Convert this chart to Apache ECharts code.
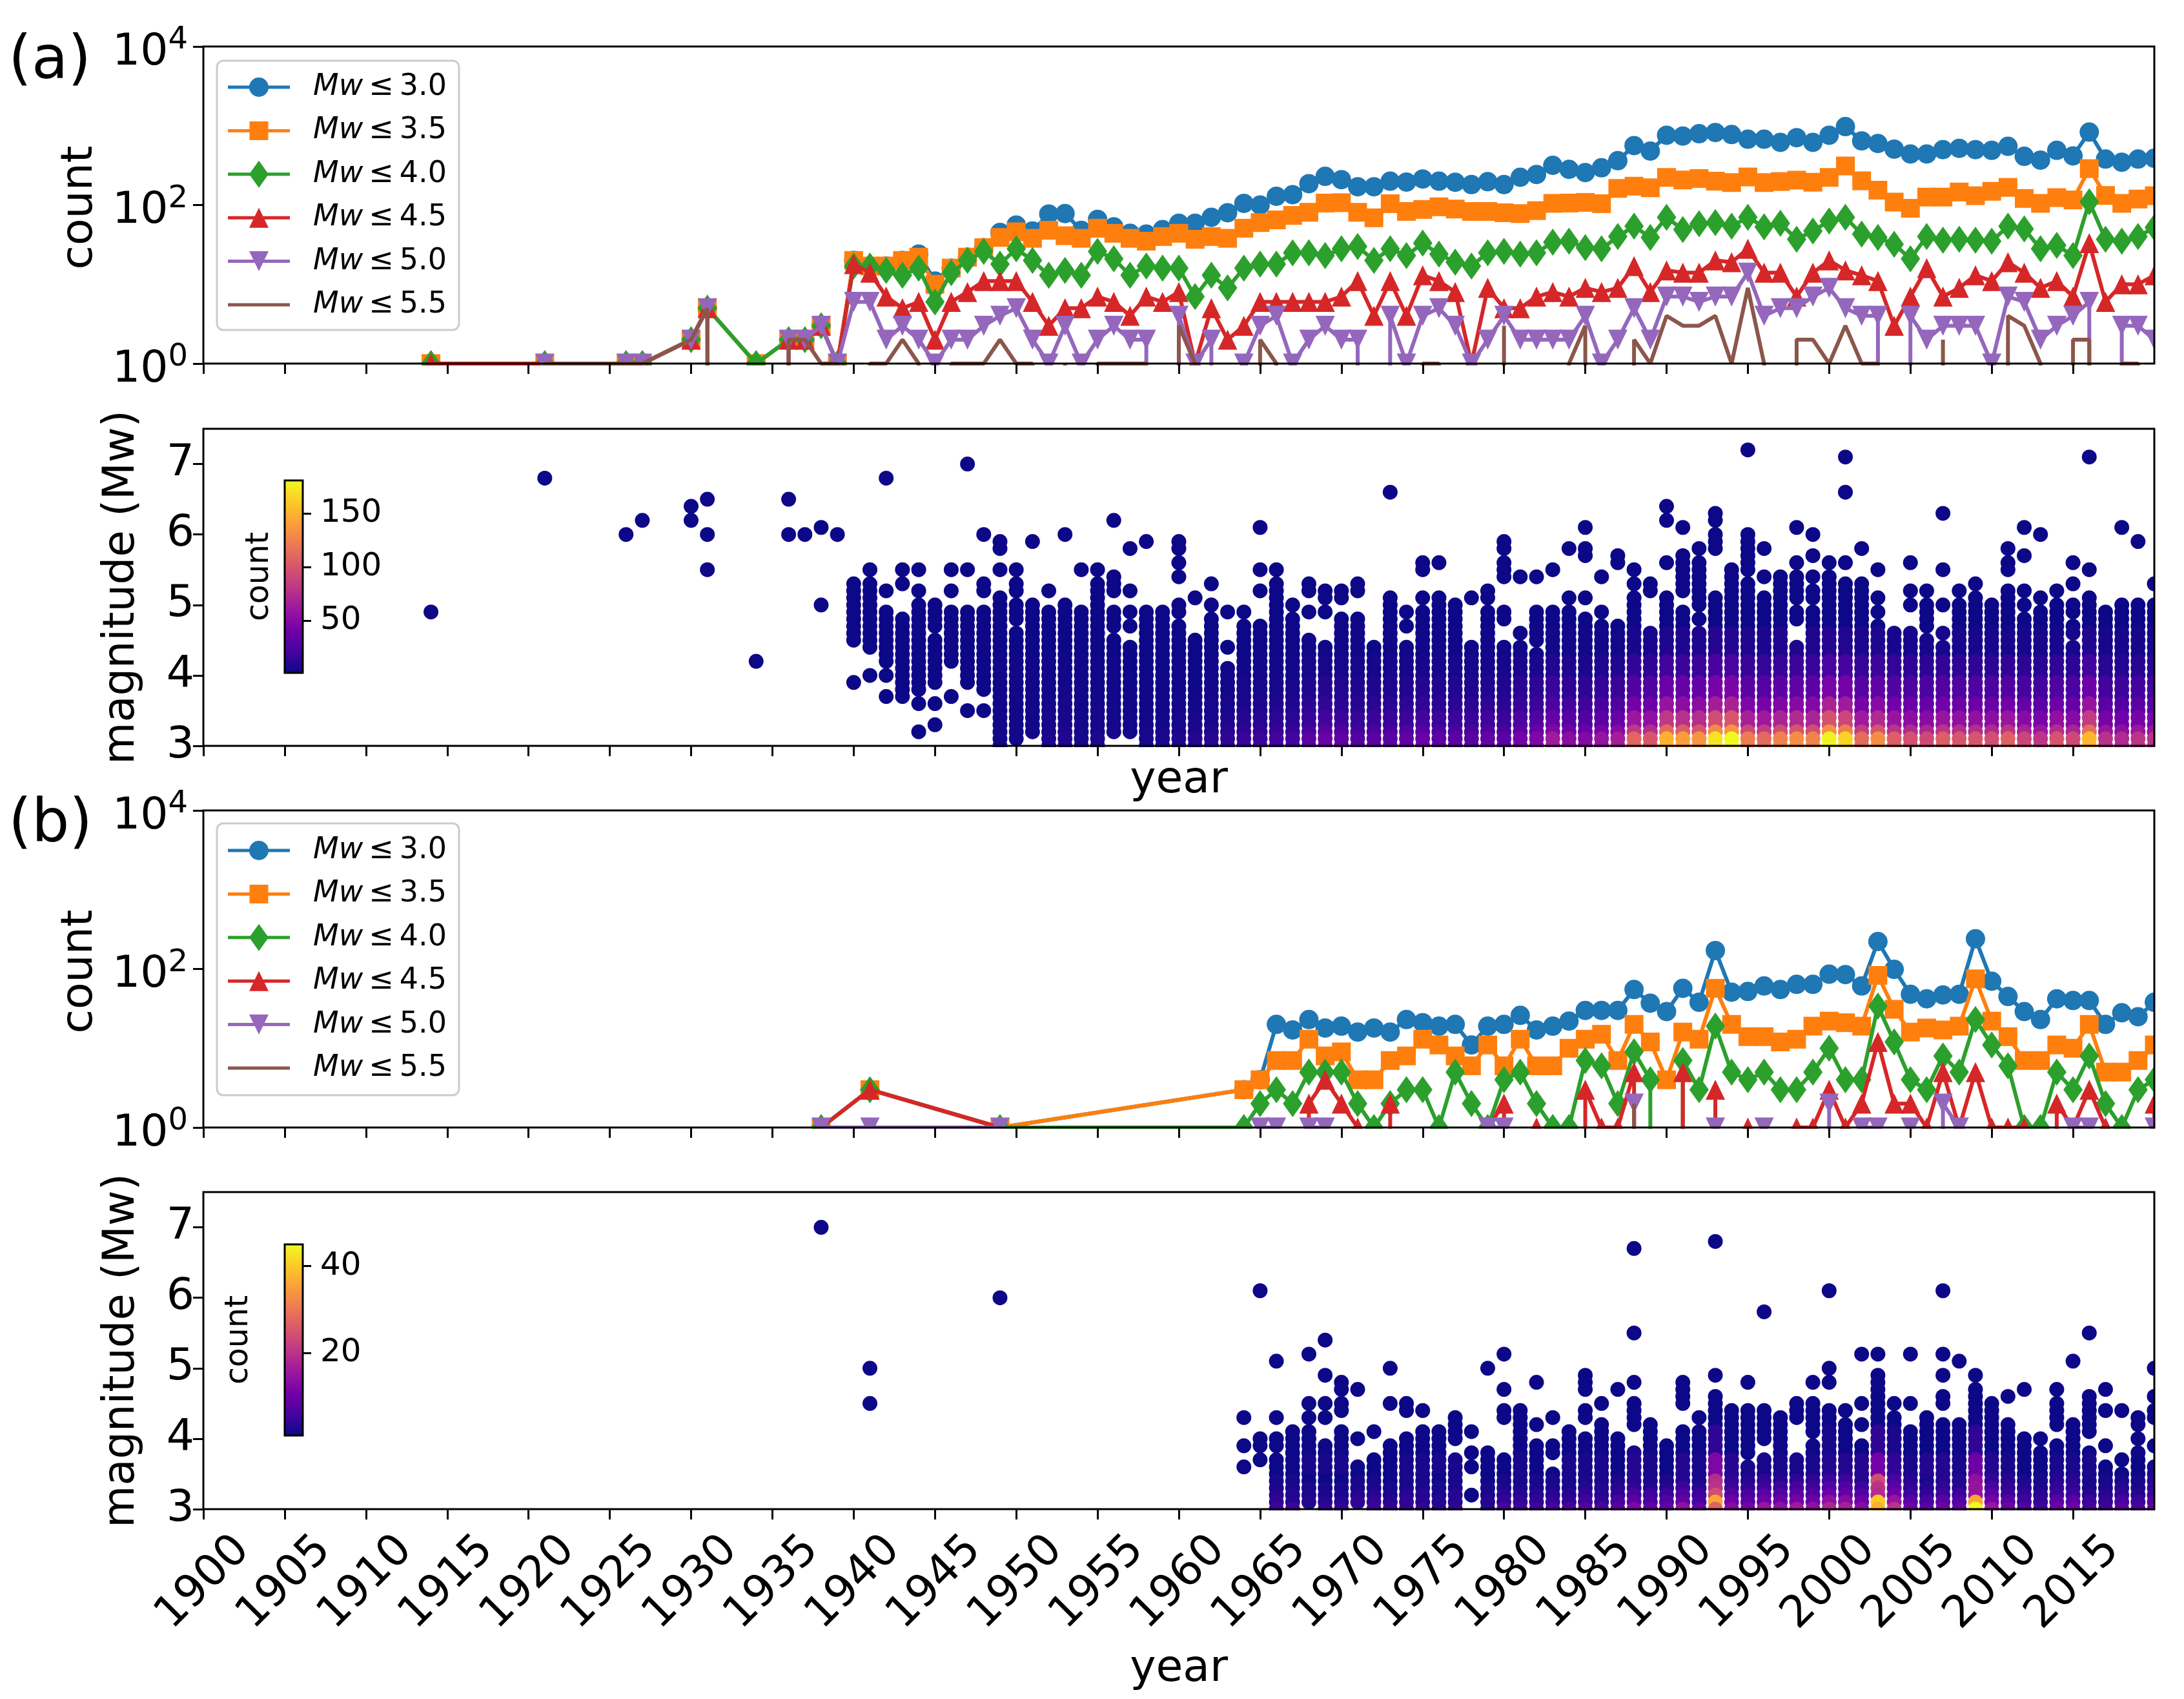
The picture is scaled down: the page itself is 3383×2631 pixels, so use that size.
<!DOCTYPE html>
<html><head><meta charset="utf-8">
<script src="https://cdn.jsdelivr.net/npm/echarts@6/dist/echarts.min.js"></script>
<style>html,body{margin:0;padding:0;background:#fff}#c{width:3383px;height:2631px}</style>
</head><body><div id="c"></div>
<script>
const seriesNames = ['Mw ≤ 3.0','Mw ≤ 3.5','Mw ≤ 4.0','Mw ≤ 4.5','Mw ≤ 5.0','Mw ≤ 5.5'];
const xTicks = [1900,1905,1910,1915,1920,1925,1930,1935,1940,1945,1950,1955,1960,1965,1970,1975,1980,1985,1990,1995,2000,2005,2010,2015];

const yearsA = [1914,1921,1926,1927,1930,1931,1934,1936,1937,1938,1939,
1940,1941,1942,1943,1944,1945,1946,1947,1948,1949,1950,1951,1952,1953,1954,
1955,1956,1957,1958,1959,1960,1961,1962,1963,1964,1965,1966,1967,1968,1969,1970,1971,1972,1973,1974,1975,1976,1977,1978,1979,
1980,1981,1982,1983,1984,1985,1986,1987,1988,1989,1990,1991,1992,1993,1994,1995,1996,1997,1998,1999,2000,2001,2002,2003,2004,2005,2006,2007,2008,2009,2010,2011,2012,2013,2014,2015,2016,2017,2018,2019,2020];
const a30 = [1,1,1,1,2,5,1,2,2,3,1,
20,17,17,20,24,11,16,22,29,45,56,47,77,78,48,
66,53,44,43,49,59,59,70,80,105,100,129,135,186,230,209,170,170,200,195,213,200,194,181,197,
181,224,243,317,282,257,295,363,562,479,759,741,794,822,776,676,676,617,708,617,759,975,645,597,507,440,440,500,519,500,490,550,412,369,490,417,832,380,347,380,389];
const a35 = [1,1,1,1,2,5,1,2,2,3,1,
20,17,17,20,22,10,16,22,29,39,46,38,48,41,38,
51,44,38,35,40,44,37,40,38,51,60,65,74,81,106,107,81,69,104,83,88,95,89,83,83,
80,78,85,105,106,108,104,162,173,165,223,207,216,200,192,226,192,198,206,194,223,311,202,154,109,91,126,126,146,131,149,167,121,105,124,116,288,132,105,119,131];
const a40 = [1,1,1,1,2,5,1,2,2,3,1,
17,17,15,13,16,6,14,20,26,18,28,20,13,15,13,
26,21,13,17,16,16,7,13,9,16,18,18,25,25,23,28,30,20,28,23,33,24,19,17,25,
26,24,25,34,35,29,28,40,54,39,70,49,58,60,54,70,53,59,37,47,63,70,43,39,32,21,40,36,37,36,35,54,50,28,31,23,110,37,35,40,52];
const a45 = [1,1,1,1,2,5,0,2,2,3,1,
18,14,7,5,6,2,6,8,11,11,11,6,3,5,5,
7,6,4,7,6,8,1,5,2,3,6,6,6,6,6,7,11,4,11,4,13,11,8,1,9,
5,5,7,8,7,9,8,9,17,8,15,14,14,20,19,28,14,14,7,14,20,15,13,11,3,7,16,7,9,13,11,19,14,9,11,7,33,6,10,10,13];
const a50 = [0,1,1,1,2,5,0,2,2,3,1,
6,6,2,3,2,1,2,2,3,4,5,2,1,3,1,
2,3,2,2,0,4,1,2,0,1,3,4,1,2,3,2,2,0,4,1,4,5,3,1,2,
4,2,2,2,2,4,1,2,5,2,7,7,6,7,7,14,4,5,5,7,9,5,4,4,0,4,2,3,3,3,1,7,6,2,3,4,6,0,3,3,2];
const a55 = [0,1,1,1,2,5,0,2,2,1,1,
0,1,1,2,1,0,1,1,1,2,1,1,0,1,0,
1,1,1,1,0,3,1,0,0,0,2,1,0,0,0,0,0,0,0,0,1,1,0,0,0,
3,0,0,0,1,3,0,0,2,1,4,3,3,4,1,9,1,0,2,2,1,3,1,1,0,0,0,2,0,0,0,4,3,1,0,2,2,0,1,1,0];

const yearsB = [1938,1941,1949,1964,1965,1966,1967,1968,1969,1970,1971,1972,1973,1974,1975,1976,1977,1978,1979,
1980,1981,1982,1983,1984,1985,1986,1987,1988,1989,1990,1991,1992,1993,1994,1995,1996,1997,1998,1999,2000,2001,2002,2003,2004,2005,2006,2007,2008,2009,2010,2011,2012,2013,2014,2015,2016,2017,2018,2019,2020];
const b30 = [1,3,1,3,4,20,17,23,18,19,16,18,16,23,21,19,20,11,19,
20,26,17,19,22,30,30,30,55,37,29,57,38,171,51,52,61,55,64,64,86,85,61,222,99,48,42,47,48,240,70,45,29,23,42,40,40,20,28,25,38];
const b35 = [1,3,1,3,4,7,7,13,8,9,4,4,7,8,13,11,8,6,11,
6,13,6,6,10,13,15,7,20,12,4,16,13,57,20,14,14,12,13,19,22,21,19,83,31,16,18,17,19,75,22,14,7,7,11,10,20,5,5,7,11];
const b40 = [1,3,1,1,2,3,2,5,5,5,2,1,2,3,3,1,5,2,1,
4,5,2,1,1,7,6,2,9,4,0,7,3,19,5,4,5,3,3,5,10,4,4,34,12,4,3,8,5,23,11,6,1,1,5,3,8,2,1,3,4];
const b45 = [1,3,1,0,0,0,0,2,4,2,1,0,2,0,0,0,0,0,1,
2,0,1,0,0,3,1,1,5,0,0,5,0,3,0,1,0,0,1,1,3,1,2,12,2,2,1,5,1,5,1,1,1,0,2,1,3,1,0,0,2];
const b50 = [1,1,1,0,1,1,0,1,1,0,0,0,0,0,0,0,0,0,1,
1,0,0,0,0,0,0,0,2,0,0,0,0,1,0,0,1,0,0,0,2,0,1,1,0,1,0,2,1,0,0,0,0,0,0,1,1,0,0,0,1];
const b55 = [1,0,1,0,1,0,0,0,0,0,0,0,0,0,0,0,0,0,0,
0,0,0,0,0,0,0,0,2,0,0,0,0,1,0,0,1,0,0,0,1,0,0,0,0,0,0,1,0,0,0,0,0,0,0,0,1,0,0,0,0];

// magnitudes present per year: "a-b" is an inclusive run of 0.1 bins
const magsA = [[1914,'4.9'],[1921,'6.8'],[1926,'6.0'],[1927,'6.2'],[1930,'6.4 6.2'],[1931,'6.5 6.0 5.5'],[1934,'4.2'],[1936,'6.5 6.0'],[1937,'6.0'],[1938,'6.1 5.0'],[1939,'6.0'],
[1940,'3.9 4.5-5.3'],[1941,'4.0 4.4-5.3 5.5'],[1942,'6.8 5.2 4.0 3.7 4.2-4.9'],[1943,'5.5 5.3 3.7-4.8'],[1944,'5.5 5.2 3.2 3.6 3.8-5.0'],[1945,'3.3 3.6 3.9-4.5 4.7-5.0'],[1946,'5.5 5.2 3.7 4.2-4.9'],[1947,'7.0 5.5 3.5 3.9-4.9'],[1948,'6.0 3.5 3.8-4.9 5.2 5.3'],[1949,'5.9 5.8 5.5 3.0-5.1'],
[1950,'5.5 5.2 5.3 4.8-5.0 3.1-4.6'],[1951,'5.9 3.2-5.0'],[1952,'5.2 3.0-4.9'],[1953,'6.0 3.0-5.0'],[1954,'5.5 3.0-4.9'],[1955,'5.5 3.0-5.3'],[1956,'6.2 5.2-5.4 4.7-4.9 3.2-4.5'],[1957,'5.8 5.2 4.9 4.7 3.2-4.4'],[1958,'5.9 3.0-4.9'],[1959,'4.8 4.9 4.6 4.7 3.0-4.5'],
[1960,'5.9 5.8 5.6 5.4 5.0 4.9 3.0-4.7'],[1961,'5.1 4.5 3.0-4.4'],[1962,'5.3 5.0 4.8 3.0-4.7'],[1963,'4.9 4.4 3.0-4.1'],[1964,'4.9 3.0-4.7'],[1965,'6.1 5.5 5.2 3.0-4.7'],[1966,'5.5 4.9-5.3 3.0-4.8'],[1967,'5.0 3.0-4.8'],[1968,'5.3 5.2 4.9 3.0-4.5'],[1969,'5.2 5.1 4.9 4.4 3.0-4.3'],
[1970,'5.2 5.1 4.8 3.0-4.7'],[1971,'5.3 5.2 3.0-4.8'],[1972,'4.4 3.0-4.3'],[1973,'6.6 4.5-5.1 3.0-4.4'],[1974,'4.9 4.7 3.0-4.4'],[1975,'5.6 5.5 5.1 4.9 3.0-4.8'],[1976,'5.6 4.3-5.1 3.0-4.2'],[1977,'3.0-5.0'],[1978,'5.1 3.0-4.4'],[1979,'5.2 5.1 3.0-4.9'],
[1980,'5.9 5.8 5.6 5.5 5.4 4.8 4.9 3.0-4.4'],[1981,'5.4 4.6 3.0-4.4'],[1982,'5.4 4.5-4.9 4.3 3.0-4.2'],[1983,'5.5 3.0-4.9'],[1984,'5.8 5.1 3.0-4.9'],[1985,'6.1 5.8 5.7 5.1 3.0-4.8'],[1986,'5.4 4.9 3.0-4.7'],[1987,'5.7 5.6 3.0-4.7'],[1988,'5.5 5.3 3.0-5.1'],[1989,'5.3 5.2 3.0-4.6'],
[1990,'6.4 6.2 5.6 3.0-5.1'],[1991,'6.1 5.2-5.7 3.0-4.9'],[1992,'5.8 5.2-5.6 5.0 5.1 4.8 3.0-4.6'],[1993,'6.3 6.2 5.8-6.0 3.0-5.1'],[1994,'5.0-5.5 3.0-4.9'],[1995,'7.2 5.5-6.0 3.0-5.3'],[1996,'5.8 5.4 3.0-5.1'],[1997,'3.0-5.4'],[1998,'6.1 5.6 5.1-5.4 4.8 4.9 3.0-4.4'],[1999,'6.0 5.7 5.4 5.2 5.1 3.0-4.9'],
[2000,'5.6 3.0-5.4'],[2001,'7.1 6.6 5.6 5.3 3.0-5.2'],[2002,'5.8 3.0-5.3'],[2003,'5.5 5.1 4.9 3.0-4.7'],[2004,'3.0-4.6'],[2005,'5.6 5.2 5.0 3.0-4.6'],[2006,'5.2 4.7-5.0 3.0-4.5'],[2007,'6.3 5.5 5.0 4.6 3.0-4.4'],[2008,'5.2 3.0-5.0'],[2009,'5.3 3.0-5.1'],
[2010,'3.0-5.0'],[2011,'5.8 5.6 5.5 3.0-5.2'],[2012,'6.1 5.7 5.2 5.0 3.0-4.8'],[2013,'6.0 5.1 3.0-4.9'],[2014,'5.2 3.0-5.0'],[2015,'5.6 5.3 4.9 5.0 4.6 4.7 3.0-4.4'],[2016,'7.1 5.5 3.0-5.1'],[2017,'4.5-4.9 3.0-4.4'],[2018,'6.1 3.0-5.0'],[2019,'5.9 4.7-5.0 3.0-4.6'],[2020,'5.3 3.0-5.0']];
const magsB = [[1938,'7.0'],[1941,'5.0 4.5'],[1949,'6.0'],[1964,'4.3 3.9 3.6'],[1965,'6.1 4.0 3.9 3.7'],[1966,'5.1 4.3 4.0 3.9 3.0-3.7'],[1967,'3.0-4.1'],[1968,'5.2 4.5 4.3 3.1-4.1'],[1969,'5.4 4.9 4.5 4.3 3.0-3.9'],
[1970,'4.8 4.7 4.5 4.4 3.0-4.1'],[1971,'4.7 4.0 3.1-3.6'],[1972,'4.1 3.0-3.7'],[1973,'5.0 4.5 3.0-3.9'],[1974,'4.5 4.4 3.0-4.0'],[1975,'4.4 3.0-4.1'],[1976,'3.0-4.1'],[1977,'4.0-4.3 3.0-3.7'],[1978,'4.1 3.8 3.6 3.2'],[1979,'5.0 3.0-3.8'],
[1980,'5.2 4.7 4.4 4.3 3.0-3.7'],[1981,'3.9-4.4 3.0-3.8'],[1982,'4.8 4.2 3.0-3.9'],[1983,'4.3 3.9 3.8 3.0-3.5'],[1984,'3.0-4.1'],[1985,'4.9 4.8 4.7 4.4 4.3 3.0-4.0'],[1986,'4.5 3.0-4.2'],[1987,'4.7 3.0-4.0'],[1988,'6.7 5.5 4.8 4.2-4.5 3.0-3.8'],[1989,'3.0-4.2'],
[1990,'3.0-3.9'],[1991,'4.5-4.8 3.0-4.1'],[1992,'4.3 3.0-4.1'],[1993,'6.8 4.9 3.0-4.6'],[1994,'3.0-4.4'],[1995,'4.8 3.8-4.4 3.0-3.6'],[1996,'5.8 4.0-4.4 3.0-3.7'],[1997,'3.0-4.3'],[1998,'4.5 4.4 4.3 3.0-3.7'],[1999,'4.8 4.1-4.5 3.0-3.9'],
[2000,'6.1 5.0 4.8 3.0-4.4'],[2001,'4.4 3.0-4.2'],[2002,'5.2 4.5 4.2 3.0-3.9'],[2003,'5.2 3.0-4.9'],[2004,'4.5 3.0-4.3'],[2005,'5.2 4.5 3.0-4.1'],[2006,'3.0-4.3'],[2007,'6.1 5.2 4.9 4.6 4.5 3.0-4.2'],[2008,'5.1 3.0-4.2'],[2009,'4.9 3.0-4.7'],
[2010,'3.0-4.5'],[2011,'4.6 3.0-4.2'],[2012,'4.7 3.0-4.0'],[2013,'4.0 3.0-3.8'],[2014,'4.7 4.2-4.5 3.0-3.9'],[2015,'5.1 3.0-4.2'],[2016,'5.5 4.1-4.6 3.0-3.8'],[2017,'4.7 4.4 3.9 3.6 3.0-3.5'],[2018,'4.4 3.7 3.0-3.5'],[2019,'4.3 4.2 4.0 3.0-3.8'],[2020,'5.0 4.6 4.4 4.3 3.9 3.0-3.6']];

// colour read per year, magnitude bands: 3.0-3.1, 3.2, 3.3-3.4, 3.5-3.6, 3.7-3.9, 4.0-4.2, 4.3-4.6
const cntFromA = 1949;
const cntA = [[3,3,2,2,2,2,1],[3,3,2,2,2,2,1],[3,3,2,2,2,2,1],[6,5,4,3,2,2,1],[8,6,5,4,3,2,1],[4,3,3,2,2,2,1],[7,5,4,3,2,2,1],[5,4,3,3,2,2,1],[4,3,3,2,2,1,1],[5,4,3,2,2,1,1],[5,4,3,2,2,1,1],
[7,5,4,3,2,2,1],[9,6,5,3,2,1,1],[10,7,5,4,3,2,1],[13,10,7,5,3,2,1],[16,12,9,6,4,2,1],[18,13,10,7,4,3,1],[20,15,11,8,5,3,1],[20,15,11,8,5,3,1],[30,22,16,11,7,4,2],[37,28,20,14,9,5,2],
[32,24,18,12,8,4,2],[27,20,15,10,7,4,2],[30,22,16,11,7,4,1],[30,22,16,11,7,4,2],[33,25,18,13,8,4,2],[37,28,20,14,9,5,2],[31,23,17,12,8,4,2],[31,23,17,12,8,4,2],[29,22,16,11,7,4,2],[34,25,19,13,8,4,2],
[30,22,16,11,8,4,2],[43,32,24,16,11,6,2],[47,35,26,18,12,6,2],[63,47,35,24,16,8,3],[52,39,29,20,13,7,3],[48,36,26,18,12,6,3],[57,43,31,22,14,7,3],[65,49,36,25,16,8,3],[110,82,60,42,27,14,5],[100,75,55,38,25,13,5],
[150,112,82,57,37,19,7],[140,105,77,53,35,18,7],[135,100,75,52,34,17,7],[172,130,95,65,43,22,9],[181,135,100,68,45,23,9],[122,92,67,46,30,16,7],[112,84,62,43,28,15,6],[125,94,69,47,31,16,7],[132,99,73,50,33,17,7],[126,95,69,48,31,16,7],
[178,133,98,68,44,23,9],[165,124,91,63,41,21,8],[112,84,62,43,28,15,6],[132,99,73,50,33,17,7],[105,79,58,40,26,14,5],[97,73,53,37,24,13,5],[93,70,51,35,23,12,5],[105,79,58,40,26,14,5],[100,75,55,38,25,13,5],[100,75,55,38,25,13,5],
[96,72,53,36,24,12,5],[107,80,59,41,27,14,5],[90,68,50,34,22,12,5],[80,60,44,30,20,10,4],[100,75,55,38,25,13,5],[92,69,50,35,23,12,5],[152,114,84,58,38,20,8],[78,58,43,30,20,10,4],[72,54,40,27,18,9,4],[80,60,44,30,20,10,4],[78,58,43,30,20,10,4]];
// panel b bands: 3.0, 3.1, 3.2, 3.3, 3.4, 3.5-3.7, 3.8-4.1
const cntFromB = 1966;
const cntB = [[5,4,3,2,2,1,1],[5,3,3,2,2,1,1],[4,3,2,2,1,2,1],[4,3,2,2,1,2,1],[4,3,2,2,1,2,1],[5,4,3,2,2,1,1],[5,4,3,2,2,1,1],[4,3,2,2,1,1,1],[4,4,3,2,2,2,1],[4,3,3,2,2,2,1],[3,3,2,2,1,2,1],[4,3,3,2,2,2,1],[2,1,1,1,1,1,1],[3,3,2,2,1,1,1],
[6,4,3,2,2,1,1],[5,4,3,2,2,2,1],[5,4,3,2,2,1,1],[6,4,3,2,2,1,1],[6,4,3,2,2,2,1],[7,5,4,3,2,2,1],[6,4,3,3,2,2,1],[8,6,4,3,2,1,1],[12,8,6,4,3,3,2],[9,6,5,3,2,2,1],
[9,7,5,3,2,1,1],[14,9,7,5,3,3,1],[9,6,5,3,2,2,1],[27,36,24,20,19,12,4],[13,10,7,5,4,3,1],[11,8,6,4,3,2,1],[15,10,8,5,4,2,1],[14,10,7,5,3,2,1],[16,11,8,6,4,2,1],[14,10,7,5,4,2,1],
[18,14,10,7,5,3,2],[17,13,9,7,5,3,1],[13,10,7,5,3,3,1],[37,40,19,20,24,11,4],[20,15,10,8,6,4,2],[10,8,5,4,3,2,1],[8,6,4,3,2,3,1],[10,8,5,4,3,3,1],[9,7,5,3,3,2,1],[45,36,15,15,14,10,4],
[15,11,8,6,4,3,1],[10,8,5,4,3,2,1],[7,5,4,3,2,1,1],[5,4,3,2,2,1,1],[10,8,5,4,3,2,1],[10,8,5,4,3,2,1],[6,5,3,2,2,2,1],[5,4,3,2,2,1,1],[8,6,4,3,2,1,1],[6,5,3,2,2,1,1],[9,7,5,4,3,2,1]];
const bandsA = [32,33,35,37,40,43,47];   // upper bound (tenths, exclusive) of each colour band
const bandsB = [31,32,33,34,35,38,42];
const cbMaxA = 181, cbMaxB = 45;
const cbTicksA = [50,100,150], cbTicksB = [20,40];

const FF = "'DejaVu Sans'";
const colors = ['#1f77b4','#ff7f0e','#2ca02c','#d62728','#9467bd','#8c564b'];
const plasma = ['#0d0887','#46039f','#7201a8','#9c179e','#bd3786','#d8576b','#ed7953','#fb9f3a','#fdca26','#f0f921'];
const thinDiamond = 'path://M0,-1 L0.72,0 L0,1 L-0.72,0 Z';
const symbols = ['circle','rect',thinDiamond,'triangle','path://M-1,-1 L1,-1 L0,1 Z','none'];
const symSizes = [30,29,[30,42],[30,31],[30,31],0];

const L = 315, W = 3022, H = 491;
const tops = [72,664,1255,1846];
const FS = 68;

function expand(txt){
  const out=[];
  txt.split(' ').forEach(t=>{
    const p=t.split('-').map(s=>Math.round(parseFloat(s)*10));
    if(p.length===1) out.push(p[0]); else for(let m=p[0];m<=p[1];m++) out.push(m);
  });
  return out.sort((a,b)=>b-a);
}
function scatterData(list,from,rows,bands){
  const d=[];
  list.forEach(([y,t])=>{
    const row=rows[y-from];
    expand(t).forEach(m=>{
      let c=1;
      if(row){ for(let i=0;i<bands.length;i++){ if(m<bands[i]){c=row[i];break;} } }
      d.push([y,m/10,c]);
    });
  });
  return d;
}
const TINY = 1e-300; // a zero count on the log axis falls off the bottom, as in the source plot
function lineData(years,vals){ return years.map((y,i)=>[y,vals[i]>0?vals[i]:TINY]); }

const xBase = (gi,withLabels,name,gap)=>({
  gridIndex:gi,type:'value',min:1900,max:2020,z:6,
  splitLine:{show:false},
  axisLine:{show:false},
  axisTick:{show:true,length:16,lineStyle:{width:3,color:'#000'},customValues:xTicks},
  axisLabel:withLabels?{show:true,customValues:xTicks,rotate:45,align:'center',verticalAlign:'middle',margin:114,fontSize:FS,fontFamily:FF,color:'#000',formatter:v=>String(v)}:{show:false},
  name:name||'',nameLocation:'middle',nameGap:gap||0,nameTextStyle:{fontSize:FS,fontFamily:FF,color:'#000'}
});
const yLog = (gi)=>({
  gridIndex:gi,type:'log',logBase:10,min:1,max:10000,z:6,
  splitLine:{show:false},minorTick:{show:false},
  axisLine:{show:false},
  axisTick:{show:true,length:16,lineStyle:{width:3,color:'#000'},customValues:[1,100,10000]},
  axisLabel:{show:true,customValues:[1,100,10000],margin:24,padding:[20,0,0,0],showMinLabel:true,showMaxLabel:true,
    formatter:v=>'{b|10}{s|'+Math.round(Math.log10(v))+'}',
    rich:{b:{fontSize:FS,fontFamily:FF,color:'#000',lineHeight:86,verticalAlign:'middle'},s:{fontSize:48,fontFamily:FF,color:'#000',lineHeight:52,verticalAlign:'top'}}},
  name:'count',nameLocation:'middle',nameGap:157,nameRotate:90,nameTextStyle:{fontSize:FS,fontFamily:FF,color:'#000',padding:[0,8,0,0]}
});
const yMag = (gi)=>({
  gridIndex:gi,type:'value',min:3,max:7.5,z:6,
  splitLine:{show:false},
  axisLine:{show:false},
  axisTick:{show:true,length:16,lineStyle:{width:3,color:'#000'},customValues:[3,4,5,6,7]},
  axisLabel:{show:true,customValues:[3,4,5,6,7],margin:14,fontSize:FS,fontFamily:FF,color:'#000',formatter:v=>String(v)},
  name:'magnitude (Mw)',nameLocation:'middle',nameGap:92,nameRotate:90,nameTextStyle:{fontSize:67,fontFamily:FF,color:'#000'}
});
const gridOf = (l,t,w,h)=>({left:l,top:t,width:w,height:h,show:true,z:5,backgroundColor:'transparent',borderColor:'#000',borderWidth:3,containLabel:false});

function lineSeries(years,arrs,xi,yi){
  return arrs.map((a,i)=>({
    type:'line',name:seriesNames[i],xAxisIndex:xi,yAxisIndex:yi,z:2+i*0.1,
    data:lineData(years,a),
    symbol:symbols[i],symbolSize:symSizes[i],showSymbol:i<5,showAllSymbol:true,
    lineStyle:{width:6,color:colors[i]},itemStyle:{color:colors[i]},
    emphasis:{disabled:true},animation:false,clip:true,silent:true
  }));
}
// legend keys: the line with its marker
const lineBar='M0,18.5 L96,18.5 L96,23.5 L0,23.5 Z';
const legendIcons=[
  'path://'+lineBar+' M33,21 A15,15 0 1 1 63,21 A15,15 0 1 1 33,21 Z',
  'path://'+lineBar+' M33.5,6.5 L62.5,6.5 L62.5,35.5 L33.5,35.5 Z',
  'path://'+lineBar+' M48,0 L63,21 L48,42 L33,21 Z',
  'path://'+lineBar+' M48,5.5 L63,36.5 L33,36.5 Z',
  'path://'+lineBar+' M33,5.5 L63,5.5 L48,36.5 Z',
  'path://'+lineBar
];
const legendOf=(left,top,pad)=>({
  left,top,orient:'vertical',itemWidth:96,itemHeight:42,itemGap:21.4,padding:pad,
  backgroundColor:'rgba(255,255,255,0.8)',borderColor:'#cccccc',borderWidth:3,borderRadius:10,
  selectedMode:false,z:4,
  data:seriesNames.map((n,i)=>({name:n,icon:legendIcons[i]})),
  itemStyle:{borderWidth:0},lineStyle:{width:0},
  formatter:n=>'{i|Mw}{g|≤}{n|'+n.slice(5)+'}',
  textStyle:{fontSize:46,fontFamily:FF,color:'#000',
    rich:{i:{fontSize:46,fontStyle:'italic',fontFamily:FF,padding:[0,0,0,31]},g:{fontSize:46,fontFamily:FF,padding:[0,9,0,9]},n:{fontSize:46,fontFamily:FF}}}
});
const gradient={type:'linear',x:0,y:1,x2:0,y2:0,colorStops:plasma.map((c,i)=>({offset:i/(plasma.length-1),color:c}))};

const cbX=(gi)=>({gridIndex:gi,type:'category',data:['count'],show:false});
const cbYr=(gi,max,ticks)=>({gridIndex:gi,type:'value',min:1,max,position:'right',z:6,splitLine:{show:false},axisLine:{show:false},
  axisTick:{show:true,length:13,lineStyle:{width:3,color:'#000'},customValues:ticks},
  axisLabel:{show:true,customValues:ticks,margin:27,padding:[14,0,0,0],fontSize:50,fontFamily:FF,color:'#000',formatter:v=>String(v)}});
const cbYl=(gi,max,gap)=>({gridIndex:gi,type:'value',min:1,max,position:'left',show:true,splitLine:{show:false},axisLine:{show:false},axisTick:{show:false},axisLabel:{show:false},
  name:'count',nameLocation:'middle',nameGap:gap,nameRotate:90,nameTextStyle:{fontSize:49,fontFamily:FF,color:'#000'}});

const mask=(x,y,w,h)=>({type:'rect',shape:{x,y,width:w,height:h},style:{fill:'#fff'},z:3,silent:true});

const option={
  animation:false,backgroundColor:'#fff',
  textStyle:{fontFamily:FF},
  title:[
    {text:'(a)',left:8,top:46,z:7,textStyle:{fontSize:92,fontWeight:'normal',fontFamily:FF,color:'#000'}},
    {text:'(b)',left:8,top:1228,z:7,textStyle:{fontSize:92,fontWeight:'normal',fontFamily:FF,color:'#000'}}
  ],
  grid:[gridOf(L,tops[0],W,H),gridOf(L,tops[1],W,H),gridOf(L,tops[2],W,H),gridOf(L,tops[3],W,H),
        gridOf(441,744,28,298),gridOf(441,1927,28,296)],
  xAxis:[xBase(0,false),xBase(1,false,'year',20),xBase(2,false),xBase(3,true,'year',214),cbX(4),cbX(5)],
  yAxis:[yLog(0),yMag(1),yLog(2),yMag(3),cbYr(4,cbMaxA,cbTicksA),cbYr(5,cbMaxB,cbTicksB),cbYl(4,cbMaxA,14),cbYl(5,cbMaxB,46)],
  legend:[legendOf(336,94,[18,19,16,17]),legendOf(336,1275,[19,19,19,17])],
  visualMap:[
    {type:'continuous',show:false,min:1,max:cbMaxA,dimension:2,seriesIndex:6,inRange:{color:plasma}},
    {type:'continuous',show:false,min:1,max:cbMaxB,dimension:2,seriesIndex:13,inRange:{color:plasma}}
  ],
  graphic:{elements:[
    mask(250,566,3133,24),mask(250,1157,3133,14),mask(250,1748,3133,24),mask(250,2339,3133,14),mask(3338,40,45,2330)
  ]},
  series:[
    ...lineSeries(yearsA,[a30,a35,a40,a45,a50,a55],0,0),
    {type:'scatter',xAxisIndex:1,yAxisIndex:1,data:scatterData(magsA,cntFromA,cntA,bandsA),symbolSize:23,z:2,animation:false,silent:true,itemStyle:{opacity:1}},
    ...lineSeries(yearsB,[b30,b35,b40,b45,b50,b55],2,2),
    {type:'scatter',xAxisIndex:3,yAxisIndex:3,data:scatterData(magsB,cntFromB,cntB,bandsB),symbolSize:23,z:2,animation:false,silent:true,itemStyle:{opacity:1}},
    {type:'bar',xAxisIndex:4,yAxisIndex:4,data:[cbMaxA],barWidth:'100%',itemStyle:{color:gradient},silent:true,animation:false,z:2},
    {type:'bar',xAxisIndex:5,yAxisIndex:5,data:[cbMaxB],barWidth:'100%',itemStyle:{color:gradient},silent:true,animation:false,z:2}
  ]
};
const chart=echarts.init(document.getElementById('c'),null,{width:3383,height:2631,renderer:'canvas'});
chart.setOption(option);
</script></body></html>
